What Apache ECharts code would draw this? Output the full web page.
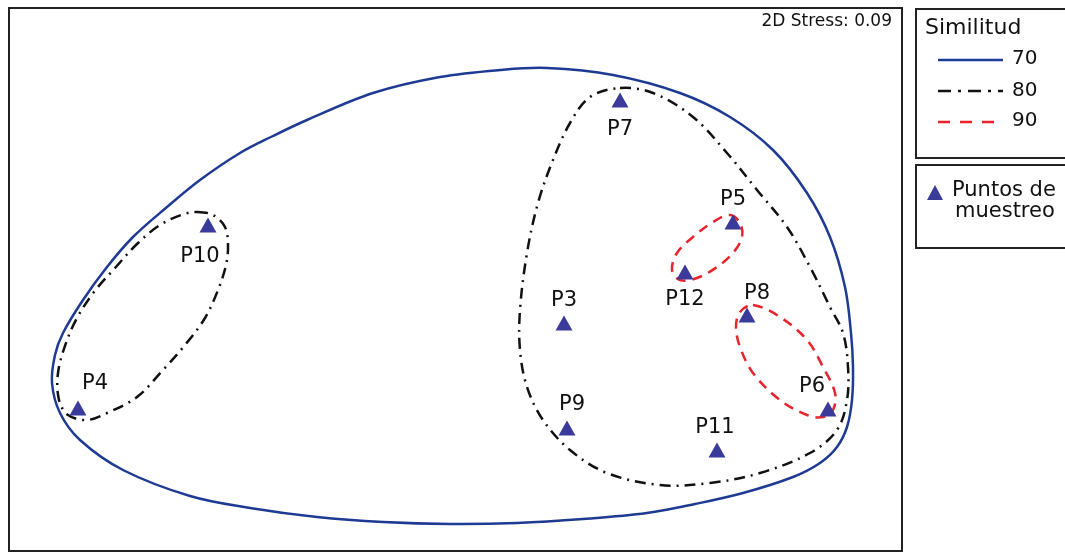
<!DOCTYPE html>
<html>
<head>
<meta charset="utf-8">
<script src="https://cdn.jsdelivr.net/npm/echarts@6/dist/echarts.min.js"></script>
<style>
  html, body { margin: 0; padding: 0; background: #fff; }
  #chart { width: 1065px; height: 553px; }
</style>
</head>
<body>
<div id="chart"></div>
<script>
// sampling points (ordination units)
const sites = ['P7', 'P5', 'P12', 'P3', 'P8', 'P6', 'P9', 'P11', 'P10', 'P4'];
const siteX = [620, 733, 685, 564, 747, 828, 567, 717, 208, 78];
const siteY = [100, 222, 272, 323, 315, 409, 428, 450, 225, 408];

// similarity contours
const contour70 = [
  [547, 68], [613, 75], [680, 93], [730, 117], [773, 150], [807, 193], [830, 237],
  [845, 287], [851, 333], [853, 367], [852, 400], [847, 427], [837, 447], [820, 463],
  [793, 477], [743, 493], [695, 504], [647, 513], [583, 519], [517, 523], [450, 524],
  [383, 522], [317, 517], [250, 508], [190, 496], [123, 470], [80, 440], [60, 413],
  [52, 383], [55, 355], [63, 333], [83, 300], [107, 267], [133, 237], [167, 207],
  [200, 180], [240, 153], [273, 136], [307, 120], [373, 93], [440, 77], [500, 70]
];
const contour80a = [
  [620, 88], [653, 93], [693, 117], [727, 153], [757, 190], [787, 227], [810, 267],
  [830, 307], [843, 333], [848, 367], [847, 400], [837, 430], [810, 453], [760, 473],
  [710, 483], [660, 485], [607, 473], [570, 450], [543, 420], [527, 387], [520, 350],
  [520, 310], [527, 253], [538, 203], [553, 160], [570, 123], [590, 97]
];
const contour80b = [
  [197, 212], [213, 215], [225, 227], [228, 245], [226, 265], [218, 290], [205, 318],
  [185, 345], [163, 370], [137, 397], [107, 413], [87, 420], [68, 415], [59, 400],
  [58, 373], [66, 343], [77, 318], [94, 292], [115, 268], [137, 244], [160, 225],
  [184, 214]
];
const contour90a = [
  [730, 215], [740, 223], [742, 237], [733, 253], [717, 267], [697, 278], [680, 280],
  [672, 270], [677, 253], [693, 237], [713, 222]
];
const contour90b = [
  [753, 305], [780, 317], [807, 340], [823, 367], [835, 393], [833, 410], [823, 417],
  [807, 415], [780, 400], [753, 373], [740, 347], [736, 327], [740, 312]
];

const levels = ['70', '80', '90'];
const stressText = '2D Stress: 0.09';

// label placement per site
const labelPlace = {
  P7: { position: 'bottom', distance: 12 },
  P5: { position: 'top', distance: 4 },
  P12: { position: 'bottom', distance: 10 },
  P3: { position: 'top', distance: 4 },
  P8: { position: 'top', distance: 3, offset: [10, 0] },
  P6: { position: 'top', distance: 4, offset: [-16, 0] },
  P9: { position: 'top', distance: 5, offset: [5, 0] },
  P11: { position: 'top', distance: 4, offset: [-2, 0] },
  P10: { position: 'bottom', distance: 14, offset: [-8, 0] },
  P4: { position: 'top', distance: 6, offset: [17, 0] }
};

const FONT = 'DejaVu Sans';
const BLUE = '#1f3a93';
const RED = '#e8232b';
const TRI = '#3a3a9a';

function contourSeries(points, color, dash) {
  return {
    type: 'custom',
    coordinateSystem: 'cartesian2d',
    silent: true,
    clip: false,
    z: 2,
    data: [points[0]],
    renderItem: function (params, api) {
      const pts = points.map(function (p) { return api.coord(p); });
      return {
        type: 'polygon',
        shape: { points: pts, smooth: 0.35 },
        style: { fill: 'none', stroke: color, lineWidth: 2.5, lineDash: dash }
      };
    }
  };
}

const chart = echarts.init(document.getElementById('chart'));

const scatterData = sites.map(function (name, i) {
  const lp = labelPlace[name];
  return {
    name: name,
    value: [siteX[i], siteY[i]],
    label: { position: lp.position, distance: lp.distance, offset: lp.offset || [0, 0] }
  };
});

const option = {
  animation: false,
  backgroundColor: '#fff',
  grid: {
    left: 9, top: 8, right: 163, bottom: 2,
    show: true, borderColor: '#222', borderWidth: 2, backgroundColor: 'transparent'
  },
  xAxis: { type: 'value', min: 9, max: 902, show: false },
  yAxis: { type: 'value', min: 8, max: 551, inverse: true, show: false },
  series: [
    contourSeries(contour70, BLUE, null),
    contourSeries(contour80a, '#111', [11, 6, 2, 6]),
    contourSeries(contour80b, '#111', [11, 6, 2, 6]),
    contourSeries(contour90a, RED, [10, 7]),
    contourSeries(contour90b, RED, [10, 7]),
    {
      type: 'scatter',
      z: 5,
      symbol: 'triangle',
      symbolSize: [17, 15],
      itemStyle: { color: TRI, opacity: 1 },
      label: {
        show: true,
        formatter: '{b}',
        color: '#111',
        fontFamily: FONT,
        fontSize: 21
      },
      data: scatterData
    }
  ],
  graphic: [
    {
      type: 'text', right: 173, top: 13,
      style: { text: stressText, fill: '#111', font: '17px "' + FONT + '"' }
    },
    {
      type: 'rect', left: 915, top: 8,
      shape: { width: 160, height: 149 },
      style: { fill: '#fff', stroke: '#222', lineWidth: 2 }
    },
    {
      type: 'rect', left: 915, top: 164,
      shape: { width: 160, height: 83 },
      style: { fill: '#fff', stroke: '#222', lineWidth: 2 }
    },
    {
      type: 'text', left: 925, top: 17,
      style: { text: 'Similitud', fill: '#111', font: '22px "' + FONT + '"' }
    },
    {
      type: 'line', shape: { x1: 938, y1: 60, x2: 1003, y2: 60 },
      style: { stroke: BLUE, lineWidth: 2.5 }
    },
    {
      type: 'line', shape: { x1: 938, y1: 91, x2: 1003, y2: 91 },
      style: { stroke: '#111', lineWidth: 2.5, lineDash: [13, 7, 3, 7] }
    },
    {
      type: 'line', shape: { x1: 938, y1: 122, x2: 1003, y2: 122 },
      style: { stroke: RED, lineWidth: 2.5, lineDash: [12, 10] }
    },
    {
      type: 'text', left: 1012, top: 49,
      style: { text: levels[0], fill: '#111', font: '20px "' + FONT + '"' }
    },
    {
      type: 'text', left: 1012, top: 81,
      style: { text: levels[1], fill: '#111', font: '20px "' + FONT + '"' }
    },
    {
      type: 'text', left: 1012, top: 111,
      style: { text: levels[2], fill: '#111', font: '20px "' + FONT + '"' }
    },
    {
      type: 'polygon',
      shape: { points: [[935, 185], [943, 200], [927, 200]] },
      style: { fill: TRI }
    },
    {
      type: 'text', left: 952, top: 180,
      style: { text: 'Puntos de', fill: '#111', font: '21px "' + FONT + '"' }
    },
    {
      type: 'text', left: 955, top: 201,
      style: { text: 'muestreo', fill: '#111', font: '21px "' + FONT + '"' }
    }
  ]
};

chart.setOption(option);
window.addEventListener('resize', function () { chart.resize(); });
</script>
</body>
</html>
